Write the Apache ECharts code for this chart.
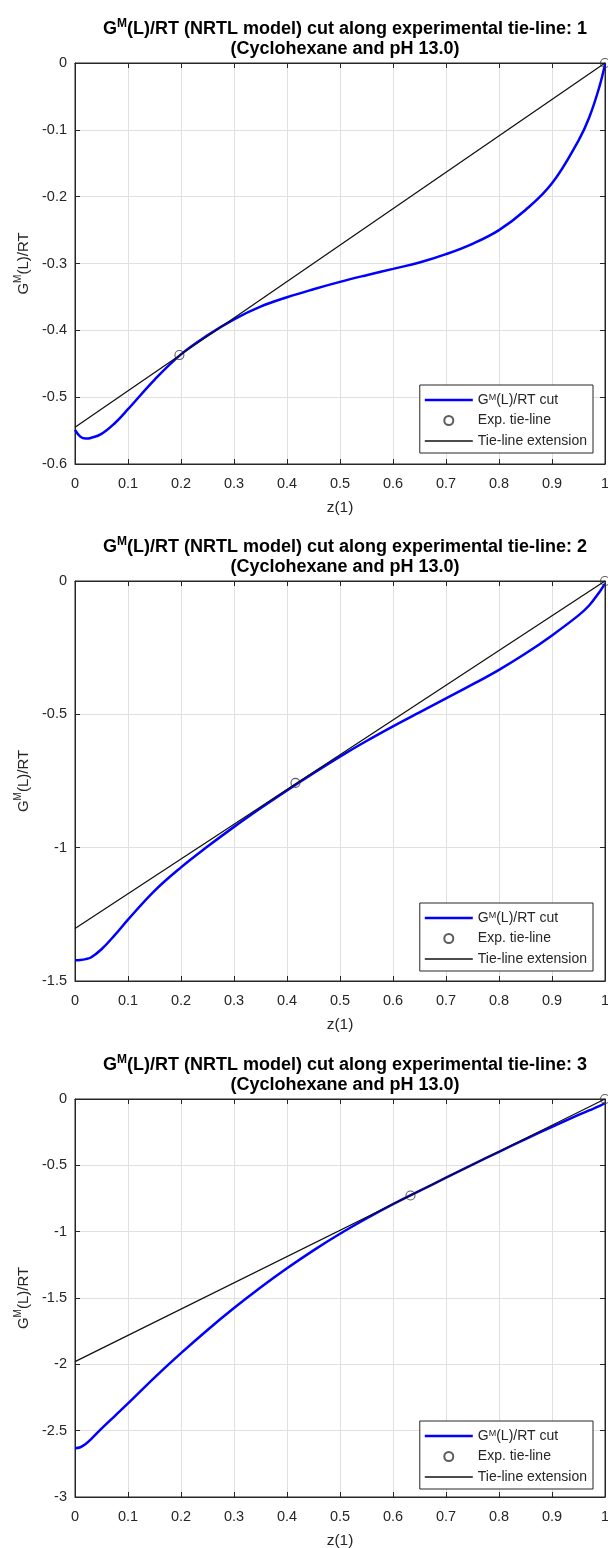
<!DOCTYPE html>
<html>
<head>
<meta charset="utf-8">
<script src="https://cdn.jsdelivr.net/npm/echarts@6/dist/echarts.min.js"></script>
<style>
  html, body { margin: 0; padding: 0; background: #fff; }
  #chart { width: 608px; height: 1548px; }
</style>
</head>
<body>
<div id="chart"></div>
<script>
// composition along the cut, z(1)
const zGrid = [0, 0.01, 0.02, 0.03, 0.05, 0.075, 0.1, 0.15, 0.2, 0.25, 0.3, 0.35, 0.4, 0.45,
  0.5, 0.55, 0.6, 0.65, 0.7, 0.75, 0.8, 0.85, 0.9, 0.95, 0.97, 0.99, 1]

// GM(L)/RT cut, one array per tie-line
const gCut1 = [-0.549, -0.559, -0.562, -0.561, -0.555, -0.539, -0.518, -0.474, -0.436, -0.4075,
  -0.3835, -0.3645, -0.3505, -0.3385, -0.3275, -0.3175, -0.308, -0.2985, -0.286, -0.2705,
  -0.250, -0.220, -0.180, -0.116, -0.082, -0.034, -0.002]
const gCut2 = [-1.422, -1.421, -1.418, -1.412, -1.381, -1.328, -1.270, -1.162, -1.074, -0.996,
  -0.922, -0.852, -0.785, -0.7205, -0.6585, -0.600, -0.545, -0.4925, -0.4405, -0.388,
  -0.333, -0.272, -0.204, -0.129, -0.092, -0.040, -0.010]
const gCut3 = [-2.632, -2.625, -2.600, -2.565, -2.485, -2.390, -2.295, -2.100, -1.916, -1.741,
  -1.576, -1.421, -1.276, -1.141, -1.016, -0.901, -0.793, -0.6925, -0.5935, -0.495,
  -0.398, -0.303, -0.210, -0.120, -0.086, -0.052, -0.030]

// experimental tie-line end points
const expZ1 = [0.197, 1]
const expG1 = [-0.437, 0]
const expZ2 = [0.416, 1]
const expG2 = [-0.757, 0]
const expZ3 = [0.633, 1]
const expG3 = [-0.727, 0]

// tie-line extension, from z=0 to z=1
const extZ = [0, 1]
const extG1 = [-0.545, 0]
const extG2 = [-1.303, 0]
const extG3 = [-1.98, 0]

// axes
const xTicks = [0, 1, 0.1]
const yMins = [-0.6, -1.5, -3]
const ySteps = [0.1, 0.5, 0.5]

const panels = [
  { cut: gCut1, expZ: expZ1, expG: expG1, extG: extG1 },
  { cut: gCut2, expZ: expZ2, expG: expG2, extG: extG2 },
  { cut: gCut3, expZ: expZ3, expG: expG3, extG: extG3 }
]

const FONT = "'Liberation Sans', Arial, Helvetica, sans-serif"
const INK = '#262626'
const pair = (xs, ys) => xs.map((x, i) => [x, ys[i]])

// panel placement in px
const gridTop = [63, 581, 1099]
const gridH = [401, 400, 398]

const option = {
  animation: false,
  backgroundColor: '#fff',
  textStyle: { fontFamily: FONT },
  title: [],
  legend: [],
  grid: [],
  xAxis: [],
  yAxis: [],
  series: []
}

const supRich = {
  n: { fontFamily: FONT, fontSize: 15, color: INK, verticalAlign: 'bottom', lineHeight: 18 },
  s: { fontFamily: FONT, fontSize: 10, color: INK, verticalAlign: 'top', lineHeight: 10 }
}

panels.forEach((p, k) => {
  const top = gridTop[k]

  option.title.push({
    text: `{b|G}{bs|M}{b|(L)/RT (NRTL model) cut along experimental tie-line: ${k + 1}}\n{b|(Cyclohexane and pH 13.0)}`,
    left: 340,
    textAlign: 'center',
    top: top - 50,
    textStyle: {
      rich: {
        b: { fontFamily: FONT, fontSize: 18, fontWeight: 'bold', color: '#000', lineHeight: 20, verticalAlign: 'bottom' },
        bs: { fontFamily: FONT, fontSize: 12, fontWeight: 'bold', color: '#000', lineHeight: 12, verticalAlign: 'top' }
      }
    }
  })

  option.grid.push({
    left: 75, top: top, width: 530, height: gridH[k],
    show: true, borderColor: INK, borderWidth: 1,
    containLabel: false, outerBoundsMode: 'none'
  })

  // bottom / left axes with labels
  option.xAxis.push({
    type: 'value', gridIndex: k, min: xTicks[0], max: xTicks[1], interval: xTicks[2],
    name: 'z(1)', nameLocation: 'middle', nameGap: 36,
    nameTextStyle: { fontFamily: FONT, fontSize: 15.5, color: INK },
    axisLine: { show: true, onZero: false, lineStyle: { color: INK, width: 1 } },
    axisTick: { show: true, inside: true, length: 5, lineStyle: { color: INK } },
    axisLabel: { fontFamily: FONT, fontSize: 14.5, color: INK, margin: 12 },
    splitLine: { show: true, lineStyle: { color: '#e0e0e0', width: 1 } }
  })
  option.yAxis.push({
    type: 'value', gridIndex: k, min: yMins[k], max: 0, interval: ySteps[k],
    name: '{n|G}{s|M}{n|(L)/RT}', nameLocation: 'middle', nameGap: 37,
    nameTextStyle: { rich: supRich },
    axisLine: { show: true, onZero: false, lineStyle: { color: INK, width: 1 } },
    axisTick: { show: true, inside: true, length: 5, lineStyle: { color: INK } },
    axisLabel: { fontFamily: FONT, fontSize: 14.5, color: INK, margin: 8 },
    splitLine: { show: true, lineStyle: { color: '#e0e0e0', width: 1 } }
  })
})

// top / right axes, ticks only (box style)
panels.forEach((p, k) => {
  option.xAxis.push({
    type: 'value', gridIndex: k, position: 'top', min: xTicks[0], max: xTicks[1], interval: xTicks[2],
    axisLine: { show: true, onZero: false, lineStyle: { color: INK } },
    axisTick: { show: true, inside: true, length: 5, lineStyle: { color: INK } },
    axisLabel: { show: false },
    splitLine: { show: false }
  })
  option.yAxis.push({
    type: 'value', gridIndex: k, position: 'right', min: yMins[k], max: 0, interval: ySteps[k],
    axisLine: { show: true, onZero: false, lineStyle: { color: INK } },
    axisTick: { show: true, inside: true, length: 5, lineStyle: { color: INK } },
    axisLabel: { show: false },
    splitLine: { show: false }
  })
})

panels.forEach((p, k) => {
  option.series.push({
    name: 'GM(L)/RT cut', type: 'line', xAxisIndex: k, yAxisIndex: k,
    data: pair(zGrid, p.cut), symbol: 'none', smooth: 0.4,
    lineStyle: { color: '#0000ff', width: 2.5 }, itemStyle: { color: '#0000ff' }, z: 3
  })
  option.series.push({
    name: 'Exp. tie-line', type: 'scatter', xAxisIndex: k, yAxisIndex: k,
    data: pair(p.expZ, p.expG), symbol: 'circle', symbolSize: 9, clip: false,
    itemStyle: { color: 'rgba(255,255,255,0)', borderColor: '#333', borderWidth: 1.1 }, z: 4
  })
  option.series.push({
    name: 'Tie-line extension', type: 'line', xAxisIndex: k, yAxisIndex: k,
    data: pair(extZ, p.extG), symbol: 'none',
    lineStyle: { color: '#111', width: 1.3 }, itemStyle: { color: '#111' }, z: 5
  })

  option.legend.push({
    right: 15,
    top: gridTop[k] + 322,
    orient: 'vertical',
    show: true,
    backgroundColor: '#fff',
    borderColor: INK,
    borderWidth: 1,
    borderRadius: 0,
    padding: [8, 6, 5, 5],
    itemWidth: 48,
    itemHeight: 9,
    itemGap: 6.5,
    selectedMode: false,
    data: [
      { name: 'GM(L)/RT cut', icon: 'path://M0,0h48v2.5h-48z' },
      { name: 'Exp. tie-line' },
      { name: 'Tie-line extension', icon: 'path://M0,0h48v1.3h-48z' }
    ],
    formatter: (name) => name === 'GM(L)/RT cut' ? '{n|G}{s|M}{n|(L)/RT cut}' : '{n|' + name + '}',
    textStyle: {
      fontFamily: FONT, fontSize: 14, color: INK,
      rich: {
        n: { fontFamily: FONT, fontSize: 14, color: INK, lineHeight: 14, verticalAlign: 'bottom' },
        s: { fontFamily: FONT, fontSize: 9, color: INK, lineHeight: 9, verticalAlign: 'top' }
      }
    }
  })
})

const chart = echarts.init(document.getElementById('chart'), null, { renderer: 'canvas' })
chart.setOption(option)
</script>
</body>
</html>
